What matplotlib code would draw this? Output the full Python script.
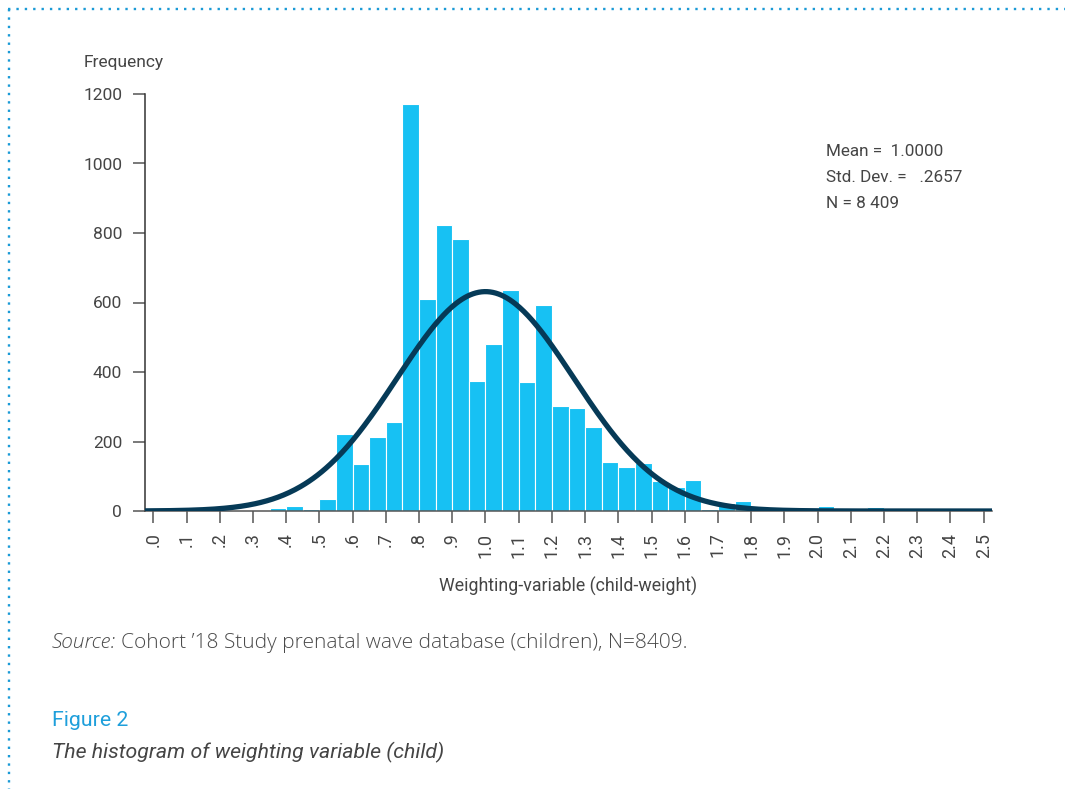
import numpy as np
import matplotlib
matplotlib.use("Agg")
import matplotlib.pyplot as plt
from matplotlib.lines import Line2D

# ---- data ----
bin_left = [0.35, 0.40, 0.45, 0.50, 0.55, 0.60, 0.65, 0.70, 0.75, 0.80,
            0.85, 0.90, 0.95, 1.00, 1.05, 1.10, 1.15, 1.20, 1.25, 1.30,
            1.35, 1.40, 1.45, 1.50, 1.55, 1.60, 1.65, 1.70, 1.75, 1.80,
            1.85, 1.90, 1.95, 2.00, 2.05, 2.10, 2.15]
counts = [10, 14, 5, 35, 222, 135, 212, 257, 1172, 609,
          822, 782, 373, 481, 636, 372, 592, 302, 295, 243,
          141, 128, 138, 85, 68, 89, 5, 22, 30, 3,
          2, 1, 1, 13, 2, 1, 11]
bin_width = 0.05
mean_val = 1.0
sd_val = 0.2657
n_val = 8409

x_ticks = [0.0, 0.1, 0.2, 0.3, 0.4, 0.5, 0.6, 0.7, 0.8, 0.9, 1.0, 1.1, 1.2,
           1.3, 1.4, 1.5, 1.6, 1.7, 1.8, 1.9, 2.0, 2.1, 2.2, 2.3, 2.4, 2.5]
x_tick_labels = [".0", ".1", ".2", ".3", ".4", ".5", ".6", ".7", ".8", ".9",
                 "1.0", "1.1", "1.2", "1.3", "1.4", "1.5", "1.6", "1.7", "1.8",
                 "1.9", "2.0", "2.1", "2.2", "2.3", "2.4", "2.5"]
y_ticks = [0, 200, 400, 600, 800, 1000, 1200]
y_tick_labels = ["0", "200", "400", "600", "800", "1000", "1200"]

stats_lines = ["Mean =  1.0000", "Std. Dev. =   .2657", "N = 8 409"]

# ---- style ----
W, H = 1065, 789
fig = plt.figure(figsize=(W / 100, H / 100), dpi=100)
fig.patch.set_facecolor("white")

FONT = ["Roboto", "DejaVu Sans"]
FONT2 = ["Open Sans", "DejaVu Sans"]
WT = "normal"
txt_col = "#454545"
bar_col = "#17c1f3"
curve_col = "#063a57"
tick_col = "#555555"

def fx(px):
    return px / W

def fy(py):
    return 1 - py / H

ax = fig.add_axes([fx(145), fy(511), fx(992) - fx(145), fy(94) - fy(511)])
ax.bar(bin_left, counts, width=bin_width, align="edge", color=bar_col,
       edgecolor="white", linewidth=0.8, zorder=2)

xs = np.linspace(-0.025, 2.525, 600)
ys = n_val * bin_width / (sd_val * np.sqrt(2 * np.pi)) * np.exp(-0.5 * ((xs - mean_val) / sd_val) ** 2)
ax.plot(xs, ys, color=curve_col, linewidth=3.8, solid_capstyle="round", zorder=3)

ax.set_xlim(-0.025, 2.525)
ax.set_ylim(0, 1200)
for s in ["top", "right"]:
    ax.spines[s].set_visible(False)
ax.spines["left"].set_color("#333333")
ax.spines["left"].set_linewidth(1.1)
ax.spines["bottom"].set_color("#555555")
ax.spines["bottom"].set_linewidth(1.1)

ax.set_xticks(x_ticks)
ax.set_xticklabels(x_tick_labels, rotation=90, fontfamily=FONT, fontsize=13,
                   fontweight=WT, color=txt_col)
ax.set_yticks(y_ticks)
ax.set_yticklabels(y_tick_labels, fontfamily=FONT, fontsize=12.5,
                   fontweight=WT, color=txt_col)
ax.tick_params(axis="x", length=8.5, width=1.1, color=tick_col, pad=7)
ax.tick_params(axis="y", length=8.5, width=1.1, color=tick_col, pad=8)
for lab in ax.get_xticklabels():
    lab.set_va("top")
    lab.set_ha("center")

ax.set_xlabel("Weighting-variable (child-weight)", fontfamily=FONT, fontsize=12.8,
              fontweight=WT, color=txt_col, labelpad=14)

fig.text(fx(84), fy(63), "Frequency", fontfamily=FONT, fontsize=12.5,
         fontweight=WT, color=txt_col, ha="left", va="center")

for i, line in enumerate(stats_lines):
    fig.text(fx(826), fy(151 + 26 * i), line, fontfamily=FONT, fontsize=12.3,
             fontweight=WT, color=txt_col, ha="left", va="center")

# source line
src_col = "#4a4a4a"
src1 = fig.text(fx(52), fy(643), "Source:", fontfamily=FONT2, fontsize=15,
                fontstyle="italic", fontweight="light", color=src_col,
                ha="left", va="center")
fig.canvas.draw()
bb = src1.get_window_extent(renderer=fig.canvas.get_renderer())
fig.text(fx(bb.x1 + 5), fy(643), "Cohort \u201918 Study prenatal wave database (children), N=8409.",
         fontfamily=FONT2, fontsize=15, fontweight="light", color=src_col,
         ha="left", va="center")

fig.text(fx(52), fy(720), "Figure 2", fontfamily=FONT, fontsize=15.3,
         fontweight=WT, color="#1e9fdb", ha="left", va="center")
fig.text(fx(52), fy(752), "The histogram of weighting variable (child)",
         fontfamily=FONT, fontsize=15.3, fontstyle="italic", fontweight=WT,
         color=txt_col, ha="left", va="center")

# dotted border (top & left)
dot_col = "#1a9ad6"
lw = 1.7
fig.add_artist(Line2D([fx(8), 1.0], [fy(9), fy(9)], color=dot_col, linewidth=lw,
                      linestyle=(0, (1.0, 2.55)), dash_capstyle="butt",
                      transform=fig.transFigure))
fig.add_artist(Line2D([fx(8.5), fx(8.5)], [fy(9), 0.0], color=dot_col, linewidth=lw,
                      linestyle=(0, (1.0, 2.55)), dash_capstyle="butt",
                      transform=fig.transFigure))

fig.savefig("out.png", dpi=100, facecolor="white")
